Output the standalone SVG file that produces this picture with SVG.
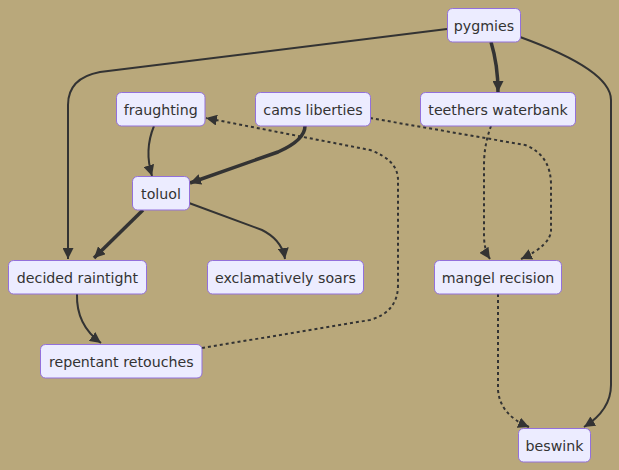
<svg xmlns="http://www.w3.org/2000/svg" width="619" height="470" viewBox="0 0 619 470">
<style>
.bg{fill:#b9a87b}
.node rect{fill:#ececff;stroke:#9370db;stroke-width:1}
.node text{font-family:"DejaVu Sans",sans-serif;font-size:14.2px;fill:#333;text-anchor:middle}
.e{fill:none;stroke:#333;stroke-width:2}
.thick{stroke-width:3.5}
.dot{stroke-dasharray:3 3}
</style>
<defs>
<marker id="arr" viewBox="0 0 10 10" refX="10" refY="5" markerUnits="userSpaceOnUse" markerWidth="11" markerHeight="11" orient="auto">
<path d="M0,0 L10,5 L0,10 z" fill="#333"/>
</marker>
</defs>
<rect class="bg" x="0" y="0" width="619" height="470"/>
<g id="connectors">
<path class="e" d="M447,29 L100,72 Q68,78 68,105 L68,259" marker-end="url(#arr)"/>
<path class="e thick" d="M491,42 Q498,65 498,92" marker-end="url(#arr)"/>
<path class="e" d="M520,37 Q611,70 611,100 L611,385 Q611,410 584,427" marker-end="url(#arr)"/>
<path class="e" d="M154,126 Q144,150 152,176" marker-end="url(#arr)"/>
<path class="e thick" d="M305,126 Q305,140 278,152 L190,183" marker-end="url(#arr)"/>
<path class="e dot" d="M370,118 L525,145 Q551,155 551,185 L551,230 Q551,245 521,259" marker-end="url(#arr)"/>
<path class="e dot" d="M491,126 Q484,145 484,165 L484,235 Q484,250 490,259" marker-end="url(#arr)"/>
<path class="e dot" d="M202,348 L370,320 Q398,312 398,285 L398,180 Q398,160 370,150 L206,118" marker-end="url(#arr)"/>
<path class="e thick" d="M143,210 L94,258" marker-end="url(#arr)"/>
<path class="e" d="M189,203 L262,230 Q282,240 285,259" marker-end="url(#arr)"/>
<path class="e" d="M77,294 Q76,325 101,343" marker-end="url(#arr)"/>
<path class="e dot" d="M498,294 L498,390 Q500,415 529,427" marker-end="url(#arr)"/>
</g>
<g id="pygmies" class="node"><rect x="447.5" y="8.5" width="73" height="33.5" rx="5"/><text x="484" y="30.5">pygmies</text></g>
<g id="teethers_waterbank" class="node"><rect x="420.5" y="92.5" width="155" height="33.5" rx="5"/><text x="498" y="114.5">teethers waterbank</text></g>
<g id="cams_liberties" class="node"><rect x="255.5" y="92.5" width="115" height="33.5" rx="5"/><text x="313" y="114.5">cams liberties</text></g>
<g id="fraughting" class="node"><rect x="116.5" y="92.5" width="88.5" height="33.5" rx="5"/><text x="160.75" y="114.5">fraughting</text></g>
<g id="toluol" class="node"><rect x="132.5" y="176.5" width="57" height="33.5" rx="5"/><text x="161" y="198.5">toluol</text></g>
<g id="decided_raintight" class="node"><rect x="8.5" y="260.5" width="138" height="33.5" rx="5"/><text x="77.5" y="282.5">decided raintight</text></g>
<g id="exclamatively_soars" class="node"><rect x="207.5" y="260.5" width="156" height="33.5" rx="5"/><text x="285.5" y="282.5">exclamatively soars</text></g>
<g id="mangel_recision" class="node"><rect x="434.5" y="260.5" width="127" height="33.5" rx="5"/><text x="498" y="282.5">mangel recision</text></g>
<g id="repentant_retouches" class="node"><rect x="40.5" y="344.5" width="161.5" height="33.5" rx="5"/><text x="121.25" y="366.5">repentant retouches</text></g>
<g id="beswink" class="node"><rect x="518.5" y="428.5" width="72" height="33.5" rx="5"/><text x="554.5" y="450.5">beswink</text></g>
</svg>
